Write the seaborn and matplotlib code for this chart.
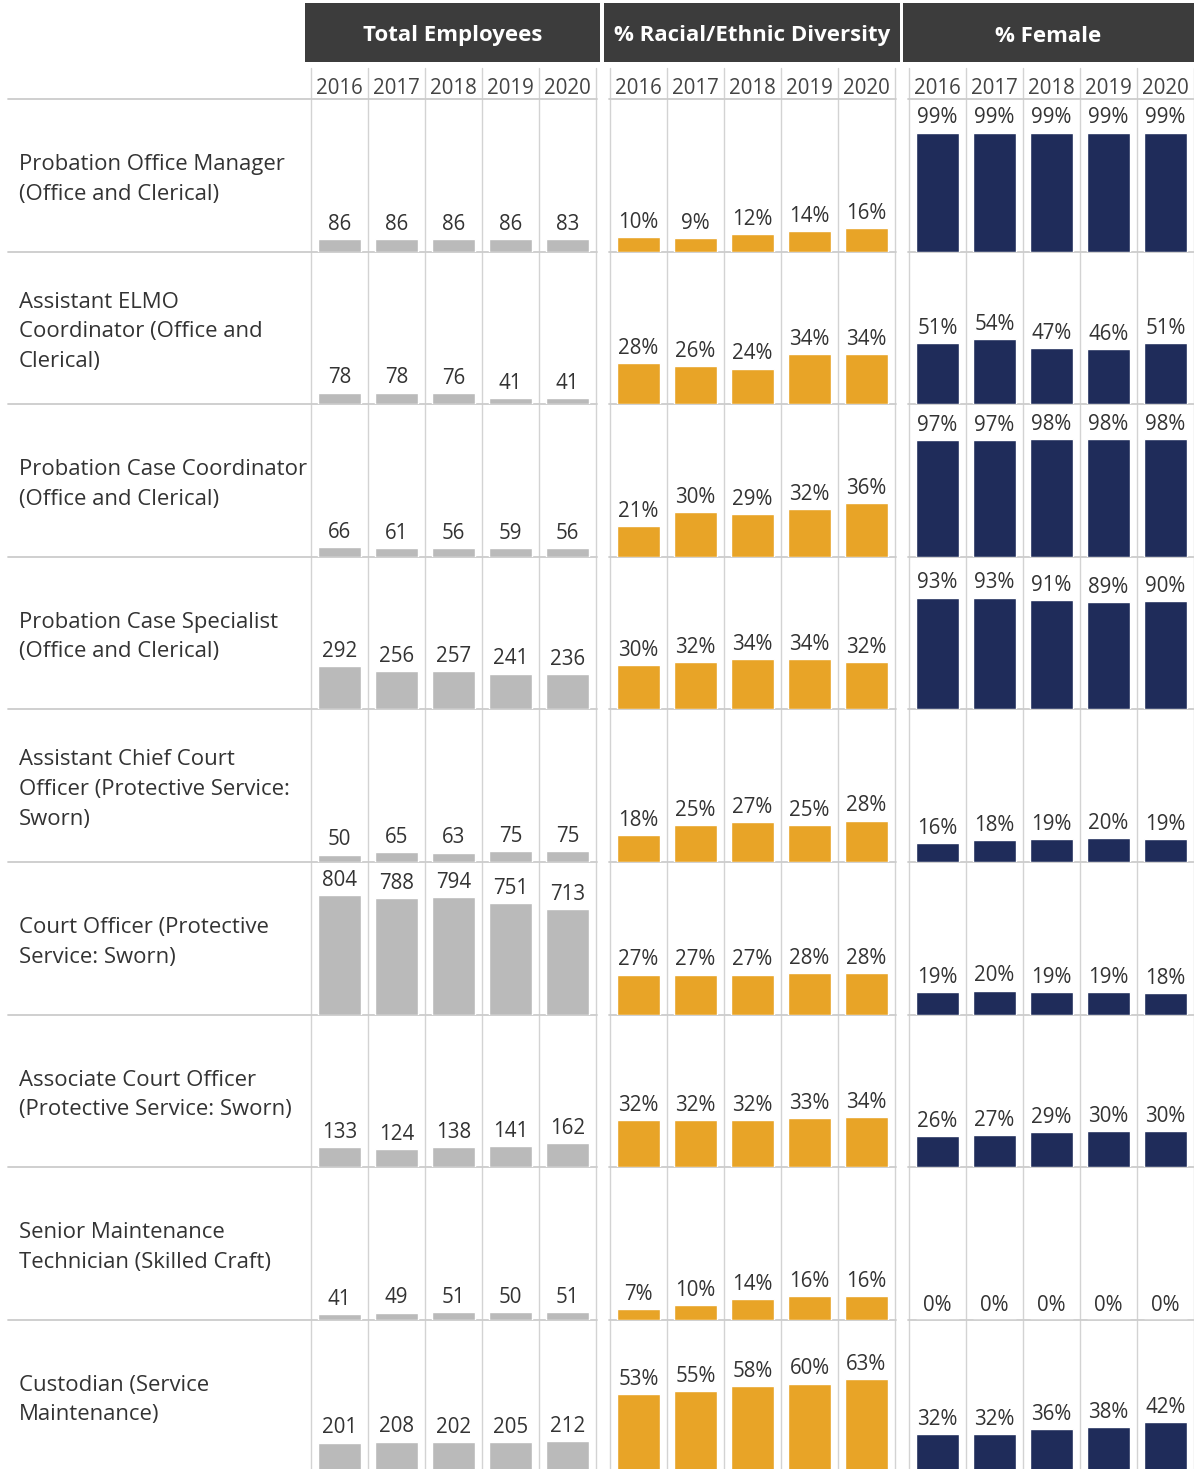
import matplotlib
matplotlib.use("Agg")
import matplotlib.pyplot as plt
from matplotlib.lines import Line2D
from matplotlib.patches import Rectangle
import seaborn as sns
import pandas as pd

sns.set_theme(style="white")
plt.rcParams['font.family'] = ['Open Sans', 'DejaVu Sans']

years = ["2016", "2017", "2018", "2019", "2020"]
jobs = [
    "Probation Office Manager\n(Office and Clerical)",
    "Assistant ELMO\nCoordinator (Office and\nClerical)",
    "Probation Case Coordinator\n(Office and Clerical)",
    "Probation Case Specialist\n(Office and Clerical)",
    "Assistant Chief Court\nOfficer (Protective Service:\nSworn)",
    "Court Officer (Protective\nService: Sworn)",
    "Associate Court Officer\n(Protective Service: Sworn)",
    "Senior Maintenance\nTechnician (Skilled Craft)",
    "Custodian (Service\nMaintenance)",
]
total_employees = [
    [86, 86, 86, 86, 83],
    [78, 78, 76, 41, 41],
    [66, 61, 56, 59, 56],
    [292, 256, 257, 241, 236],
    [50, 65, 63, 75, 75],
    [804, 788, 794, 751, 713],
    [133, 124, 138, 141, 162],
    [41, 49, 51, 50, 51],
    [201, 208, 202, 205, 212],
]
pct_diversity = [
    [10, 9, 12, 14, 16],
    [28, 26, 24, 34, 34],
    [21, 30, 29, 32, 36],
    [30, 32, 34, 34, 32],
    [18, 25, 27, 25, 28],
    [27, 27, 27, 28, 28],
    [32, 32, 32, 33, 34],
    [7, 10, 14, 16, 16],
    [53, 55, 58, 60, 63],
]
pct_female = [
    [99, 99, 99, 99, 99],
    [51, 54, 47, 46, 51],
    [97, 97, 98, 98, 98],
    [93, 93, 91, 89, 90],
    [16, 18, 19, 20, 19],
    [19, 20, 19, 19, 18],
    [26, 27, 29, 30, 30],
    [0, 0, 0, 0, 0],
    [32, 32, 36, 38, 42],
]
panel_titles = ["Total Employees", "% Racial/Ethnic Diversity", "% Female"]

W, H = 1194, 1469
fig = plt.figure(figsize=(W / 100, H / 100), dpi=100)
fig.patch.set_facecolor("white")

def fx(x):
    return x / W

def fy(y):
    return 1 - y / H

# panel geometry in pixels
panels = [
    dict(x0=311, x1=596, box=(305, 600), data=total_employees, color="#bababa", ymax=1029, fmt="{:.0f}"),
    dict(x0=610, x1=895, box=(604, 900), data=pct_diversity, color="#e8a427", ymax=103, fmt="{:.0f}%"),
    dict(x0=909, x1=1194, box=(903, 1194), data=pct_female, color="#1f2c5a", ymax=127, fmt="{:.0f}%"),
]
top_y = 99
row_h = 152.6
n_rows = len(jobs)
grid_c = "#d3d3d3"
text_c = "#333333"
fs = 14.8
label_fs = 15.9

# header boxes
for p, title in zip(panels, panel_titles):
    bx0, bx1 = p["box"]
    fig.add_artist(Rectangle((fx(bx0), fy(62)), fx(bx1 - bx0), (62 - 3) / H,
                             transform=fig.transFigure, facecolor="#3c3c3c",
                             edgecolor="none"))
    fig.text(fx((bx0 + bx1) / 2), fy(36), title, color="white", fontsize=16.0,
             fontweight="bold", ha="center", va="center")
    colw = (p["x1"] - p["x0"]) / 5
    for i, yr in enumerate(years):
        fig.text(fx(p["x0"] + colw * (i + 0.5)), fy(88), yr, color="#444444",
                 fontsize=fs, ha="center", va="center")

# bars
for p in panels:
    for r in range(n_rows):
        y_top = top_y + r * row_h
        ax = fig.add_axes([fx(p["x0"]), fy(y_top + row_h), (p["x1"] - p["x0"]) / W, row_h / H])
        df = pd.DataFrame({"year": years, "value": p["data"][r]})
        sns.barplot(data=df, x="year", y="value", order=years, color=p["color"],
                    saturation=1, width=0.76, errorbar=None, ax=ax)
        ax.set_xlim(-0.5, 4.5)
        ax.set_ylim(0, p["ymax"])
        for c in ax.containers:
            ax.bar_label(c, labels=[p["fmt"].format(v) for v in p["data"][r]],
                         padding=3, fontsize=fs, color=text_c)
        ax.axis("off")
        ax.patch.set_alpha(0)

# vertical grid lines
for p in panels:
    colw = (p["x1"] - p["x0"]) / 5
    for i in range(6):
        x = p["x0"] + colw * i
        fig.add_artist(Line2D([fx(x), fx(x)], [fy(68), fy(H + 5)], transform=fig.transFigure,
                              color=grid_c, lw=1.0, zorder=0))

# horizontal row lines
segments = [(8, 597), (609, 896), (908, 1194)]
for r in range(n_rows):
    y = top_y + r * row_h
    for a, b in segments:
        fig.add_artist(Line2D([fx(a), fx(b)], [fy(y), fy(y)], transform=fig.transFigure,
                              color="#cccccc", lw=1.3, zorder=0))
    fig.text(fx(19), fy(y + row_h / 2 + 4), jobs[r], color=text_c, fontsize=label_fs,
             ha="left", va="center", linespacing=1.55)

fig.savefig("out.png", dpi=100, facecolor="white")
